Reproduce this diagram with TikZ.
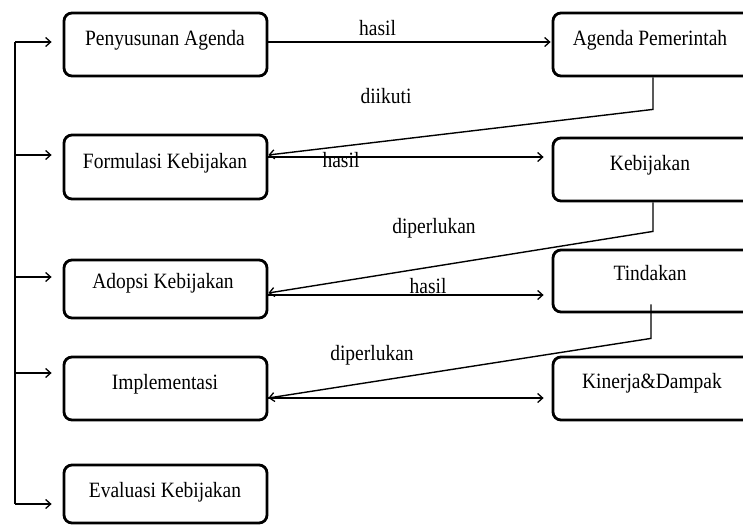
\documentclass[tikz,border=0pt]{standalone}
\usepackage{fontspec}
\usepackage{graphicx}
\setmainfont{Liberation Serif}
\usetikzlibrary{arrows.meta}
\newcommand{\vtxt}[1]{\scalebox{1}[1.12]{#1}}
\tikzset{
  box/.style={draw, line width=2.8pt, rounded corners=8pt, minimum width=203pt, inner sep=0pt},
  txt/.style={font=\fontsize{19.5}{22}\selectfont, inner sep=0pt, anchor=base},
  conn/.style={line width=1.4pt},
  arr/.style={conn, -{Straight Barb[length=5pt,width=9pt,line width=1.3pt]}}
}
\begin{document}
\begin{tikzpicture}[x=1pt,y=-1pt]
\useasboundingbox (0,0) rectangle (743,525);
\clip (0,0) rectangle (743,525);
\fill[white] (0,0) rectangle (743,525);
% left boxes
\node[box, minimum height=63pt] (pa) at (165.5,44.5) {};
\node[box, minimum height=64pt] (fk) at (165.5,167) {};
\node[box, minimum height=58pt] (ad) at (165.5,289) {};
\node[box, minimum height=63pt] (im) at (165.5,388.5) {};
\node[box, minimum height=58pt] (ev) at (165.5,494) {};
% right boxes
\node[box, minimum height=63pt] (ap) at (654.5,44.5) {};
\node[box, minimum height=63pt] (kb) at (654.5,169.5) {};
\node[box, minimum height=62pt] (td) at (654.5,281) {};
\node[box, minimum height=63pt] (kd) at (654.5,388.5) {};
% box texts
\node[txt] (tpa) at (165,45.7) {\vtxt{Penyusunan Agenda}};
\node[txt] (tfk) at (165,168) {\vtxt{Formulasi Kebijakan}};
\node[txt] (tad) at (163,288) {\vtxt{Adopsi Kebijakan}};
\node[txt] (tim) at (165,389) {\vtxt{Implementasi}};
\node[txt] (tev) at (165,497) {\vtxt{Evaluasi Kebijakan}};
\node[txt] (tap) at (650,45) {\vtxt{Agenda Pemerintah}};
\node[txt] (tkb) at (650,170) {\vtxt{Kebijakan}};
\node[txt] (ttd) at (650,280) {\vtxt{Tindakan}};
\node[txt] (tkd) at (652,388) {\vtxt{Kinerja\&Dampak}};
% left bus
\coordinate (b1) at (15,42);
\coordinate (b2) at (15,155);
\coordinate (b3) at (15,277);
\coordinate (b4) at (15,373);
\coordinate (b5) at (15,504);
\draw[conn] (b1) -- (b5);
\draw[arr, shorten >=11pt] (b1) -- (b1 -| pa.west);
\draw[arr, shorten >=11pt] (b2) -- (b2 -| fk.west);
\draw[arr, shorten >=11pt] (b3) -- (b3 -| ad.west);
\draw[arr, shorten >=11pt] (b4) -- (b4 -| im.west);
\draw[arr, shorten >=11pt] (b5) -- (b5 -| ev.west);
% horizontal "hasil" arrows
\coordinate (h1) at ([yshift=2.5pt]pa.east);
\draw[arr, shorten >=1pt] (h1) -- (h1 -| ap.west);
\coordinate (h2) at ([yshift=10pt]fk.east);
\draw[arr, shorten >=8pt] (h2) -- (h2 -| kb.west);
\coordinate (h3) at ([yshift=-6pt]ad.east);
\draw[arr, shorten >=8pt] (h3) -- (h3 -| td.west);
\coordinate (h4) at ([yshift=-9.5pt]im.east);
\draw[arr, shorten >=8pt] (h4) -- (h4 -| kd.west);
% return connectors
\draw[arr] ([xshift=-1.5pt]ap.south) -- ++(0,32) -- ([yshift=12pt]fk.east);
\draw[arr] ([xshift=-1.5pt]kb.south) -- ++(0,29) -- ([yshift=-4pt]ad.east);
\draw[arr] ([xshift=-3.5pt,yshift=9pt]td.south) -- ++(0,34) -- ([yshift=-9.5pt]im.east);
% labels
\node[txt] (l1) at (377.5,35) {\vtxt{hasil}};
\node[txt] (l2) at (386,103) {\vtxt{diikuti}};
\node[txt] (l3) at (341,167) {\vtxt{hasil}};
\node[txt] (l4) at (434,233) {\vtxt{diperlukan}};
\node[txt] (l5) at (428,293) {\vtxt{hasil}};
\node[txt] (l6) at (372,360) {\vtxt{diperlukan}};
\end{tikzpicture}
\end{document}
